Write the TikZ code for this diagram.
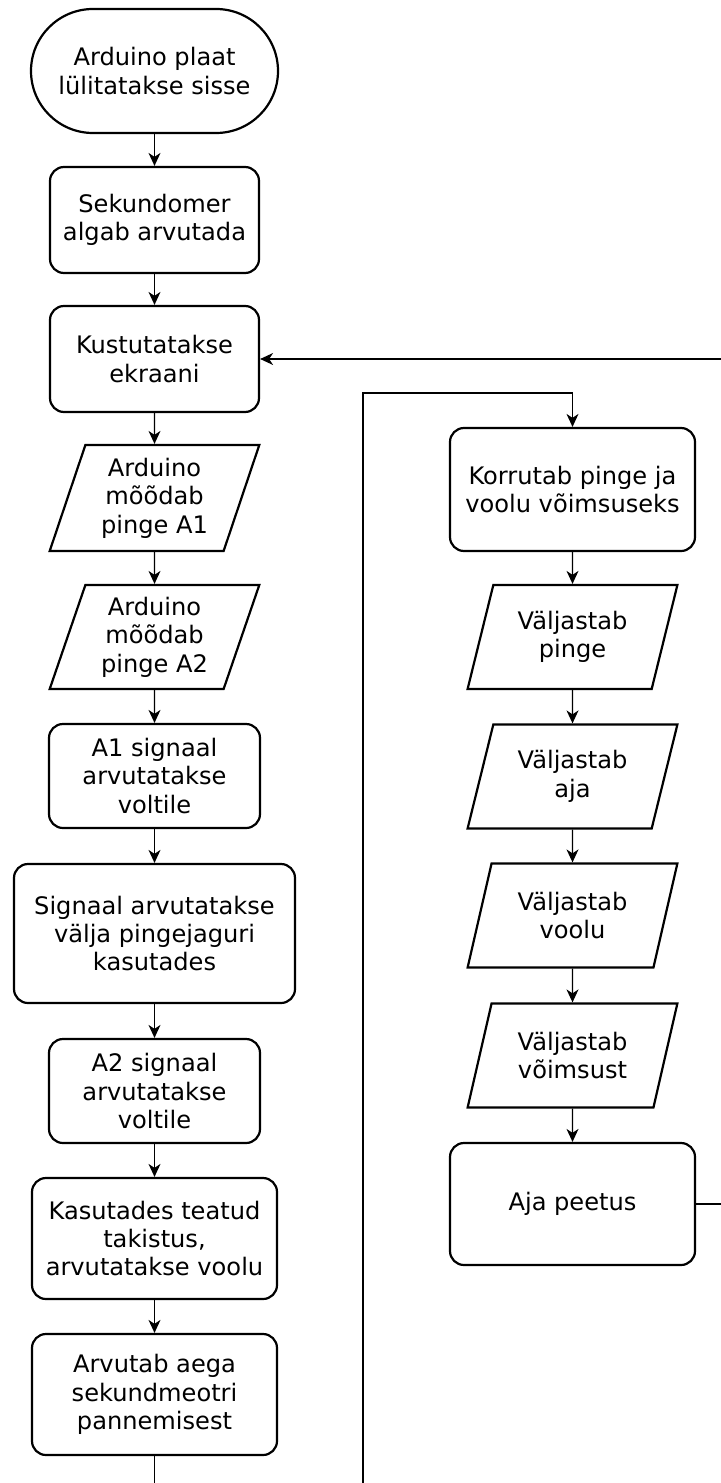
\documentclass[tikz,border=0pt]{standalone}
\usepackage{fontspec}
\setmainfont{DejaVu Sans}
\usepackage{tikz}
\usetikzlibrary{arrows.meta, shapes.geometric}

\tikzset{
  box/.style={draw, line width=2.2bp, rounded corners=14bp, align=center, inner sep=0pt},
  term/.style={draw, line width=2.2bp, rounded corners=62bp, align=center, inner sep=0pt},
  io/.style={draw, line width=2.2bp, trapezium, trapezium left angle=71, trapezium right angle=109,
             trapezium stretches=true, align=center, inner sep=0pt}
}

\begin{document}
\begin{tikzpicture}[x=1bp, y=-1bp,
				->,
				>={Stealth[length=13bp, width=12bp, inset=4bp]},
				line width=1.3bp,
				font=\fontsize{24.2}{28.5}\selectfont]
				\path[clip] (0,0) rectangle (721,1483);
				% left column
				\node at (154.5,71) (start) [term, minimum width=247bp, minimum height=124bp] {Arduino plaat\\lülitatakse sisse};
				\node at (154.5,220) (sek) [box, minimum width=209bp, minimum height=106bp] {Sekundomer\\algab arvutada};
				\node at (154.5,359) (kust) [box, minimum width=209bp, minimum height=106bp] {Kustutatakse\\ekraani};
				\node at (154.5,498) (mA1) [io, minimum width=210bp, minimum height=106bp] {Arduino\\mõõdab\\pinge A1};
				\node at (154.5,637) (mA2) [io, minimum width=210bp, minimum height=104bp] {Arduino\\mõõdab\\pinge A2};
				\node at (154.5,776) (a1v) [box, minimum width=211bp, minimum height=104bp] {A1 signaal\\arvutatakse\\voltile};
				\node at (154.5,933.5) (sig) [box, minimum width=281bp, minimum height=139bp] {Signaal arvutatakse\\välja pingejaguri\\kasutades};
				\node at (154.5,1091) (a2v) [box, minimum width=211bp, minimum height=104bp] {A2 signaal\\arvutatakse\\voltile};
				\node at (154.5,1238.5) (kas) [box, minimum width=245bp, minimum height=121bp] {Kasutades teatud\\takistus,\\arvutatakse voolu};
				\node at (154.5,1394.5) (arv) [box, minimum width=245bp, minimum height=121bp] {Arvutab aega\\sekundmeotri\\pannemisest};
				% right column
				\node at (572.5,489.5) (kor) [box, minimum width=245bp, minimum height=123bp] {Korrutab pinge ja\\voolu võimsuseks};
				\node at (572.5,637) (vpinge) [io, minimum width=210bp, minimum height=104bp] {Väljastab\\pinge};
				\node at (572.5,776.5) (vaja) [io, minimum width=210bp, minimum height=104bp] {Väljastab\\aja};
				\node at (572.5,915.5) (vvool) [io, minimum width=210bp, minimum height=104bp] {Väljastab\\voolu};
				\node at (572.5,1055.5) (vvoim) [io, minimum width=210bp, minimum height=104bp] {Väljastab\\võimsust};
				\node at (572.5,1204) (ajp) [box, minimum width=245bp, minimum height=122bp] {Aja peetus};
				% loop points
				\coordinate (low) at (363,1520);
				\coordinate (up) at (363,393);
				\coordinate (back) at (745,359);
				\draw[->, black] (start) -- (sek);
				\draw[->, black] (sek) -- (kust);
				\draw[->, black] (kust) -- (mA1);
				\draw[->, black] (mA1) -- (mA2);
				\draw[->, black] (mA2) -- (a1v);
				\draw[->, black] (a1v) -- (sig);
				\draw[->, black] (sig) -- (a2v);
				\draw[->, black] (a2v) -- (kas);
				\draw[->, black] (kas) -- (arv);
				\draw[->, black] (arv) -- (arv |- low) -- (low) -- (up) -| (kor);
				\draw[->, black] (kor) -- (vpinge);
				\draw[->, black] (vpinge) -- (vaja);
				\draw[->, black] (vaja) -- (vvool);
				\draw[->, black] (vvool) -- (vvoim);
				\draw[->, black] (vvoim) -- (ajp);
				\draw[->, black] (ajp) -| (back) -- (kust);
			\end{tikzpicture}
\end{document}
